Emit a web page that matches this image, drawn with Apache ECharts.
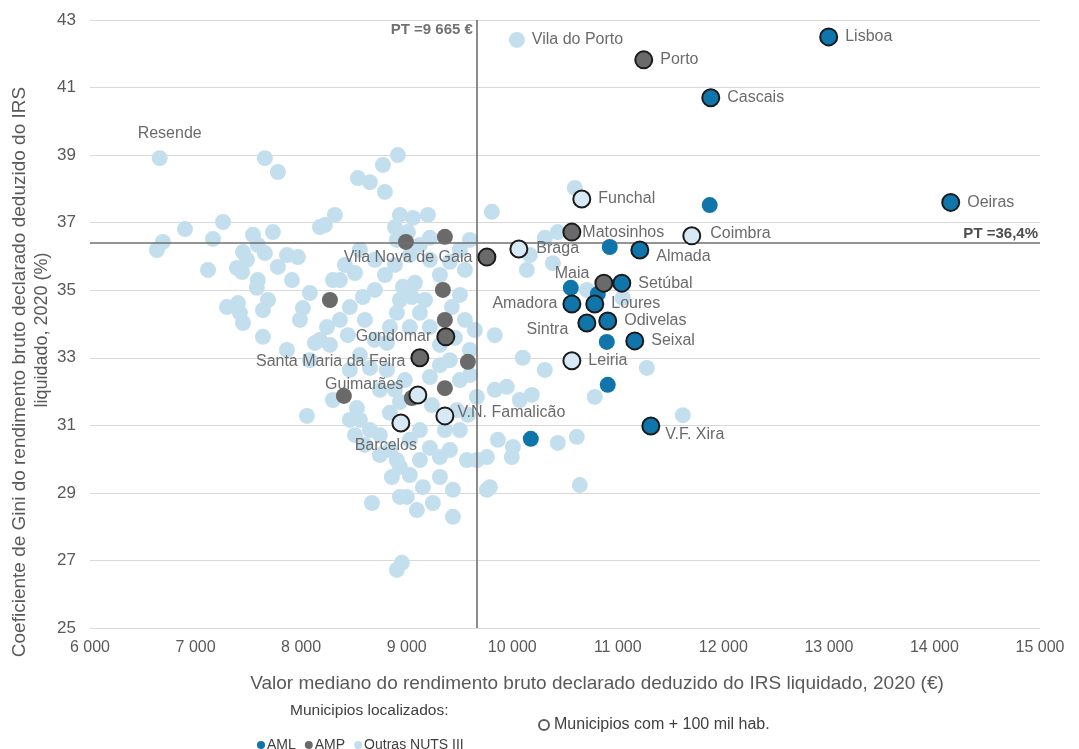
<!DOCTYPE html>
<html>
<head>
<meta charset="utf-8">
<script src="https://cdn.jsdelivr.net/npm/echarts@6/dist/echarts.min.js"></script>
<style>html,body{margin:0;padding:0;background:#fff}#c{width:1079px;height:749px}</style>
</head>
<body>
<div id="c"></div>
<script>
// ---- data ----
const xTickMin = 6000, xTickMax = 15000, xTickStep = 1000;
const yTickMin = 25, yTickMax = 43, yTickStep = 2;
const ptIncome = 9665;      // PT median income (€)
const ptGini = 36.4;        // PT Gini (%)
const xTitle = 'Valor mediano do rendimento bruto declarado deduzido do IRS liquidado, 2020 (€)';
const yTitle1 = 'Coeficiente de Gini do rendimento bruto declarado deduzido do IRS';
const yTitle2 = 'liquidado, 2020 (%)';

// Outras NUTS III (no label, no border)
const outras = [
[7657,38.91],[7780,38.50],[6900,36.81],[7260,37.02],[6690,36.43],[6634,36.19],[7165,36.52],[7118,35.60],
[7544,36.64],[7733,36.72],[7449,36.13],[7590,36.34],[7657,36.10],[7487,35.90],[7392,35.66],[7440,35.54],
[7590,35.30],[7581,35.07],[7866,36.04],[7970,35.98],[7780,35.69],[7913,35.30],[8225,36.93],[8320,37.23],
[8301,35.30],[8083,34.92],[7297,34.50],[7402,34.62],[7420,34.33],[7449,34.03],[7638,34.41],[7686,34.71],
[7638,33.62],[8017,34.47],[7989,34.12],[8131,33.44],[8245,33.91],[7866,33.23],[8055,31.28],[8273,33.38],
[8917,39.00],[8775,38.71],[8538,38.32],[8652,38.20],[8794,37.91],[8936,37.23],[9059,37.14],[9201,37.23],
[8889,36.87],[9012,36.72],[9220,36.55],[8907,36.49],[8510,35.51],[8368,35.30],[8585,34.80],[8462,34.50],
[8964,35.10],[9078,35.22],[9049,34.80],[9428,34.50],[9457,33.59],[8907,34.33],[9125,34.33],[8841,33.91],
[9030,33.91],[9220,33.91],[8813,33.44],[8936,34.71],[9173,34.71],[9504,34.86],[9552,35.60],[9409,35.84],
[9220,35.90],[9315,35.45],[8699,35.90],[8557,36.19],[8415,35.75],[8604,34.12],[8699,33.53],[9315,33.38],
[9552,34.12],[8557,33.08],[8652,32.70],[8462,32.64],[8746,32.05],[8813,32.64],[9220,32.43],[8301,31.75],
[8529,31.51],[8841,31.37],[9665,31.84],[9504,32.34],[9599,32.49],[8557,31.16],[8652,30.86],[8746,30.71],
[8841,30.27],[8907,29.97],[8860,29.47],[8936,29.77],[9220,30.33],[9315,30.06],[9409,30.27],[9570,29.97],
[9665,29.97],[9315,29.47],[9438,29.09],[9154,29.17],[9002,28.88],[9097,28.49],[8936,28.88],[9248,28.70],
[9438,28.29],[8671,28.70],[8907,26.72],[8955,26.93],[9760,29.09],[9504,30.86],[9030,30.57],[9125,30.86],
[9125,29.97],[9030,29.53],[9362,30.86],[8510,30.71],[8604,30.42],[8746,30.12],[8462,31.16],[8889,32.05],
[8983,32.34],[9315,32.78],[9409,32.93],[9599,33.23],[9646,33.82],[9475,31.45],[9580,31.31],[9239,31.60],
[8936,31.69],[8178,33.53],[8368,34.12],[8443,33.67],[8083,32.93],[8699,35.01],[8794,35.45],[8889,35.75],
[9030,36.04],[9125,36.34],[9504,36.19],[9599,36.49],[8178,36.87],
[10593,38.03],[9807,37.32],[10309,36.55],[10432,36.72],[10138,35.60],[10385,35.80],[10167,36.04],[10707,35.01],
[11047,34.77],[9835,33.67],[10100,33.00],[10309,32.64],[9835,32.05],[9949,32.14],[10072,31.75],[10186,31.90],
[10782,31.84],[11275,32.70],[11616,31.30],[9864,30.57],[10006,30.36],[9996,30.06],[10432,30.48],[10612,30.66],
[9760,30.06],[10640,29.23],[9788,29.17]
];
// Outras NUTS III with label (no border)
const outrasNamed = [[10044,42.41,'Vila do Porto'],[6660,38.91,'Resende']];
// Outras NUTS III, municipalities > 100k inhabitants
const outrasBig = [
[10659,37.70,'Funchal'],[11701,36.61,'Coimbra'],[10063,36.22,'Braga'],[10565,32.91,'Leiria'],
[9106,31.90,'Guimarães'],[9362,31.28,'V.N. Famalicão'],[8945,31.07,'Barcelos']
];
// AMP
const amp = [[8273,34.71],[8993,36.43],[9362,36.58],[9343,35.01],[9362,34.12],[9580,32.88],[9362,32.10],[8405,31.87],[9049,31.81]];
const ampBig = [
[11246,41.82,'Porto'],[10565,36.72,'Matosinhos'],[9760,35.98,'Vila Nova de Gaia'],[10868,35.21,'Maia'],
[9371,33.62,'Gondomar'],[9125,33.00,'Santa Maria da Feira']
];
// AML
const aml = [[11871,37.52],[10924,36.28],[10555,35.07],[10811,34.89],[10896,33.47],[10905,32.20],[10176,30.60]];
const amlBig = [
[12998,42.50,'Lisboa'],[11881,40.70,'Cascais'],[14154,37.60,'Oeiras'],[11209,36.19,'Almada'],
[11038,35.21,'Setúbal'],[10565,34.59,'Amadora'],[10782,34.59,'Loures'],[10707,34.03,'Sintra'],
[10905,34.09,'Odivelas'],[11161,33.50,'Seixal'],[11313,30.98,'V.F. Xira']
];

// ---- styling ----
const FONT = 'Liberation Sans, Arial, sans-serif';
const C_LIGHT = '#c3dfee', C_AMP = '#6a6a6a', C_AML = '#0f75aa', C_TXT = '#6b6b6b', C_AX = '#595959';
const labelPlace = {
  'Resende': ['top', [10, -4]],
  'Vila Nova de Gaia': ['left', [0, 0]],
  'Maia': ['left', [0, -10]],
  'Amadora': ['left', [0, 0]],
  'Sintra': ['left', [-4, 7]],
  'Gondomar': ['left', [0, 0]],
  'Santa Maria da Feira': ['left', [0, 4]],
  'Guimarães': ['left', [0, -10]],
  'Barcelos': ['bottom', [-15, 0]],
  'Almada': ['right', [2, 7]],
  'Loures': ['right', [2, 0]],
  'V.F. Xira': ['right', [0, 9]],
  'Matosinhos': ['right', [-4, 0]],
  'V.N. Famalicão': ['right', [-2, -3]],
  'Braga': ['right', [3, 0]],
  'Coimbra': ['right', [4, -2]]
};
function named(arr) {
  return arr.map(d => {
    const p = labelPlace[d[2]] || ['right', [2, 0]];
    return { value: [d[0], d[1]], name: d[2], label: { position: p[0], offset: p[1] } };
  });
}
const baseLabel = { show: true, formatter: '{b}', color: C_TXT, fontSize: 16, fontFamily: FONT, distance: 5 };
const bigBorder = { borderColor: '#1b1b1b', borderWidth: 2, opacity: 1 };
function fmtThousands(v) { return String(v).replace(/\B(?=(\d{3})+(?!\d))/g, ' '); }

const chart = echarts.init(document.getElementById('c'));
chart.setOption({
  animation: false,
  textStyle: { fontFamily: FONT },
  grid: { left: 90, right: 39, top: 20, bottom: 121, outerBoundsMode: 'none', containLabel: false },
  xAxis: {
    type: 'value', min: xTickMin, max: xTickMax, interval: xTickStep,
    axisLine: { show: false }, axisTick: { show: false }, splitLine: { show: false },
    axisLabel: { color: C_AX, fontSize: 16, margin: 12, formatter: fmtThousands }
  },
  yAxis: {
    type: 'value', min: yTickMin, max: yTickMax, interval: yTickStep,
    axisLine: { show: false }, axisTick: { show: false },
    splitLine: { show: true, lineStyle: { color: '#d9d9d9', width: 1 } },
    axisLabel: { color: C_AX, fontSize: 17, margin: 14 }
  },
  legend: [
    { left: 252, top: 733, itemWidth: 8, itemHeight: 8, itemGap: 9, icon: 'circle',
      textStyle: { color: '#404040', fontSize: 14, padding: [0, 0, 0, -3] },
      data: ['AML', 'AMP', 'Outras NUTS III'], selectedMode: false },
    { left: 533, top: 712, itemWidth: 10, itemHeight: 10, icon: 'circle',
      textStyle: { color: '#404040', fontSize: 16 },
      data: ['Municipios com + 100 mil hab.'], selectedMode: false }
  ],
  graphic: [
    { type: 'text', left: 290, top: 703, style: { text: 'Municipios localizados:', fill: '#404040', fontSize: 15.5, fontFamily: FONT } },
    { type: 'text', x: 597, y: 684,
      style: { text: xTitle, fill: C_AX, fontSize: 19, fontFamily: FONT, align: 'center', verticalAlign: 'middle' } },
    { type: 'text', x: 20, y: 372, rotation: Math.PI / 2,
      style: { text: yTitle1, fill: C_AX, fontSize: 19, fontFamily: FONT, align: 'center', verticalAlign: 'middle' } },
    { type: 'text', x: 42, y: 330, rotation: Math.PI / 2,
      style: { text: yTitle2, fill: C_AX, fontSize: 18, fontFamily: FONT, align: 'center', verticalAlign: 'middle' } }
  ],
  series: [
    { name: 'Outras NUTS III', type: 'scatter', symbolSize: 16, itemStyle: { color: C_LIGHT, opacity: 1 }, data: outras, z: 2,
      markLine: {
        silent: true, symbol: 'none', animation: false,
        lineStyle: { color: '#6f6f6f', width: 1.6, type: 'solid' },
        label: { show: false },
        data: [
          { xAxis: ptIncome },
          { yAxis: ptGini, label: { show: true, position: 'insideEndTop', formatter: 'PT =36,4%', color: '#4d4d4d', fontWeight: 'bold', fontSize: 15, distance: 2 } }
        ]
      }
    },
    { name: 'Outras NUTS III', type: 'scatter', symbolSize: 16, itemStyle: { color: C_LIGHT, opacity: 1 }, label: baseLabel, data: named(outrasNamed), z: 3 },
    { name: 'AMP', type: 'scatter', symbolSize: 16, itemStyle: { color: C_AMP, opacity: 1 }, data: amp, z: 4 },
    { name: 'AML', type: 'scatter', symbolSize: 16, itemStyle: { color: C_AML, opacity: 1 }, data: aml, z: 5 },
    { name: 'Outras NUTS III', type: 'scatter', symbolSize: 17, itemStyle: Object.assign({ color: '#d6e9f4' }, bigBorder), label: baseLabel, data: named(outrasBig), z: 6 },
    { name: 'AMP', type: 'scatter', symbolSize: 17, itemStyle: Object.assign({ color: C_AMP }, bigBorder), label: baseLabel, data: named(ampBig), z: 7 },
    { name: 'AML', type: 'scatter', symbolSize: 17, itemStyle: Object.assign({ color: C_AML }, bigBorder), label: baseLabel, data: named(amlBig), z: 8 },
    { name: 'PT', type: 'scatter', symbolSize: 0, silent: true, z: 9,
      label: { show: true, position: 'left', formatter: 'PT =9 665 €', color: '#4d4d4d', fontWeight: 'bold', fontSize: 15, distance: 4, offset: [0, 10] },
      data: [[ptIncome, yTickMax]] },
    { name: 'Municipios com + 100 mil hab.', type: 'scatter', data: [],
      itemStyle: { color: '#ffffff', borderColor: '#333333', borderWidth: 1.5 } }
  ]
});
</script>
</body>
</html>
